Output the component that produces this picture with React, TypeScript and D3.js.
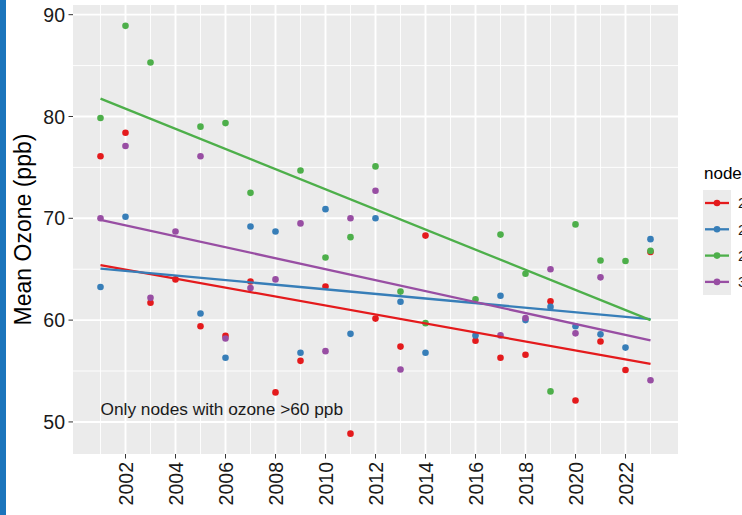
import * as d3 from 'd3';
import React from 'react';

// years with at least one node reading (no data for 2015)
const years = [2001, 2002, 2003, 2004, 2005, 2006, 2007, 2008, 2009, 2010, 2011, 2012, 2013, 2014, 2016, 2017, 2018, 2019, 2020, 2021, 2022, 2023];

const nodeRed = [76.1, 78.4, 61.7, 64.0, 59.4, 58.45, 63.8, 52.9, 56.0, 63.3, 48.85, 60.15, 57.4, 68.3, 57.98, 56.3, 56.6, 61.85, 52.1, 57.9, 55.1, 66.7];
const nodeBlue = [63.25, 70.15, null, null, 60.65, 56.3, 69.2, 68.7, 56.8, 70.9, 58.65, 70.0, 61.8, 56.8, 58.5, 62.4, 60.0, 61.3, 59.4, 58.6, 57.3, 67.95];
const nodeGreen = [79.85, 88.9, 85.3, null, 79.0, 79.35, 72.5, null, 74.7, 66.15, 68.15, 75.1, 62.8, 59.7, 62.05, 68.4, 64.55, 53.0, 69.4, 65.85, 65.8, 66.8];
const nodePurple = [70.0, 77.1, 62.2, 68.7, 76.1, 58.2, 63.15, 64.0, 69.5, 56.95, 70.0, 72.7, 55.15, null, null, 58.5, 60.2, 65.0, 58.7, 64.2, null, 54.1];

// fitted trend, value at first and last year
const fitYears = [2001, 2023];
const fitRed = [65.4, 55.7];
const fitBlue = [65.05, 60.1];
const fitGreen = [81.75, 60.0];
const fitPurple = [69.85, 58.0];

const nodeNames = ['2', '2', '2', '3'];
const colours = ['#E41A1C', '#377EB8', '#4DAF4A', '#984EA3'];

const yTicks = [50, 60, 70, 80, 90];
const xTicks = [2002, 2004, 2006, 2008, 2010, 2012, 2014, 2016, 2018, 2020, 2022];

const W = 742;
const H = 515;
const panel = { left: 73, right: 678, top: 5, bottom: 454 };
const font = 'Liberation Sans, Arial, sans-serif';

export default function App() {
    const series = [
        { name: nodeNames[0], values: nodeRed, fit: fitRed, colour: colours[0] },
        { name: nodeNames[1], values: nodeBlue, fit: fitBlue, colour: colours[1] },
        { name: nodeNames[2], values: nodeGreen, fit: fitGreen, colour: colours[2] },
        { name: nodeNames[3], values: nodePurple, fit: fitPurple, colour: colours[3] },
    ];

    const x = d3.scaleLinear().domain([1999.9, 2024.1]).range([panel.left, panel.right]);
    const y = d3.scaleLinear().domain([46.85, 90.95]).range([panel.bottom, panel.top]);

    const minorX = d3.range(2001, 2024, 2);
    const minorY = [55, 65, 75, 85];

    const line = d3.line<number>()
        .x((d, i) => x(fitYears[i]))
        .y(d => y(d));

    return (
        <svg width={W} height={H} style={{ position: 'absolute', left: 0, top: 0, background: '#fff' }}
            fontFamily={font}>
            <rect x={0} y={0} width={6} height={H} fill="#1B75BC" />

            <rect x={panel.left} y={panel.top} width={panel.right - panel.left} height={panel.bottom - panel.top} fill="#EBEBEB" />
            {minorY.map(v => (
                <line key={'my' + v} x1={panel.left} x2={panel.right} y1={y(v)} y2={y(v)} stroke="#fff" strokeWidth={0.9} />
            ))}
            {minorX.map(v => (
                <line key={'mx' + v} x1={x(v)} x2={x(v)} y1={panel.top} y2={panel.bottom} stroke="#fff" strokeWidth={0.9} />
            ))}
            {yTicks.map(v => (
                <line key={'gy' + v} x1={panel.left} x2={panel.right} y1={y(v)} y2={y(v)} stroke="#fff" strokeWidth={1.9} />
            ))}
            {xTicks.map(v => (
                <line key={'gx' + v} x1={x(v)} x2={x(v)} y1={panel.top} y2={panel.bottom} stroke="#fff" strokeWidth={1.9} />
            ))}

            {series.map(s => (
                <g key={'pts' + s.colour}>
                    {s.values.map((v, i) => v == null ? null : (
                        <circle key={i} cx={x(years[i])} cy={y(v)} r={3.3} fill={s.colour} />
                    ))}
                </g>
            ))}

            {series.map(s => (
                <path key={'fit' + s.colour} d={line(s.fit) || ''} fill="none" stroke={s.colour} strokeWidth={2.3} />
            ))}

            <text x={x(2001)} y={y(51.3)} dy="0.35em" fontSize={17.3} fill="#1a1a1a">Only nodes with ozone &gt;60 ppb</text>

            {/* y axis */}
            {yTicks.map(v => (
                <g key={'ty' + v}>
                    <line x1={panel.left - 4.5} x2={panel.left} y1={y(v)} y2={y(v)} stroke="#333" strokeWidth={1} />
                    <text x={panel.left - 8} y={y(v)} dy="0.36em" textAnchor="end" fontSize={19.5} fill="#1a1a1a">{v}</text>
                </g>
            ))}
            <text transform={`translate(31, ${(panel.top + panel.bottom) / 2}) rotate(-90)`} textAnchor="middle"
                fontSize={23} fill="#000">Mean Ozone (ppb)</text>

            {/* x axis */}
            {xTicks.map(v => (
                <g key={'tx' + v}>
                    <line x1={x(v)} x2={x(v)} y1={panel.bottom} y2={panel.bottom + 4.5} stroke="#333" strokeWidth={1} />
                    <text transform={`translate(${x(v)}, ${panel.bottom + 8}) rotate(-90)`} dy="0.36em" textAnchor="end"
                        fontSize={19.5} fill="#1a1a1a">{v}</text>
                </g>
            ))}

            {/* legend */}
            <text x={704} y={179} fontSize={17} fill="#000">node</text>
            <rect x={703} y={190} width={28} height={105} fill="#EBEBEB" />
            {series.map((s, i) => {
                const cy = 203 + i * 26.3;
                return (
                    <g key={'lg' + s.colour}>
                        <line x1={705} x2={729} y1={cy} y2={cy} stroke={s.colour} strokeWidth={2.3} />
                        <circle cx={717} cy={cy} r={3.3} fill={s.colour} />
                        <text x={738} y={cy} dy="0.36em" fontSize={15} fill="#1a1a1a">{s.name}</text>
                    </g>
                );
            })}
        </svg>
    );
}
